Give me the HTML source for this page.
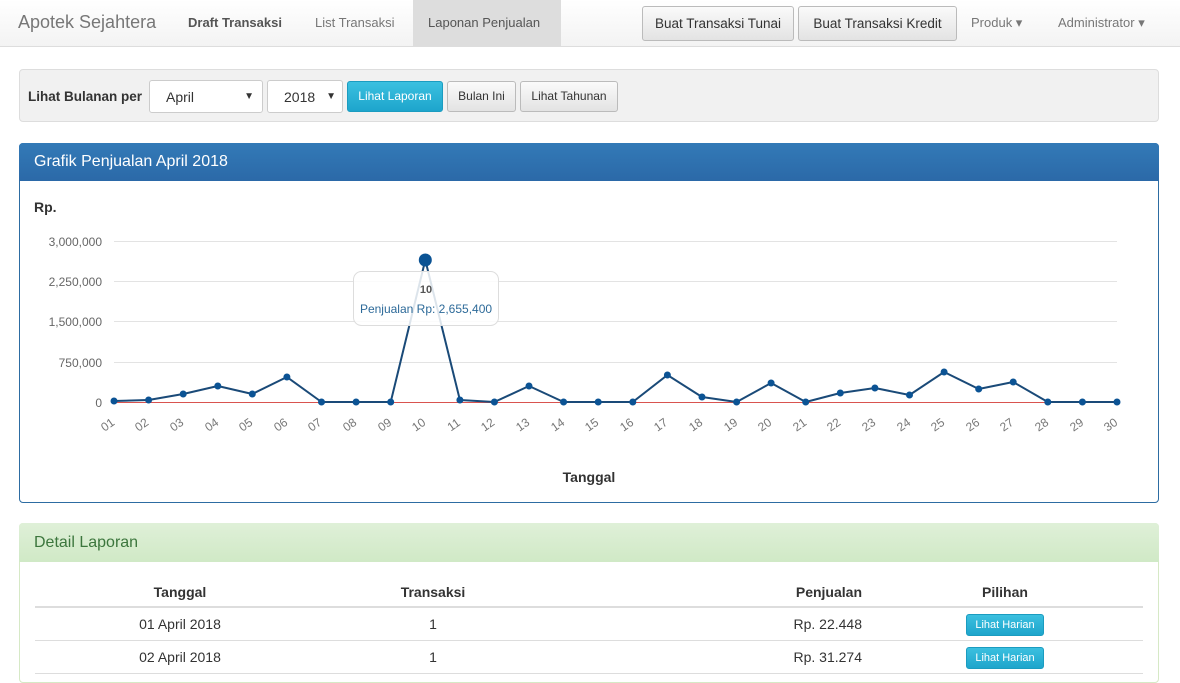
<!DOCTYPE html>
<html><head><meta charset="utf-8"><style>
body{margin:0;width:1180px;height:675px;overflow:hidden;background:#fff;font-family:"Liberation Sans",sans-serif;color:#333;position:relative}
.a{position:absolute}
.nav{left:0;top:0;width:1180px;height:46px;background:linear-gradient(#fff,#f3f3f3);border-bottom:1px solid #ddd}
.btn{position:absolute;border:1px solid #bbb;border-radius:3px;background:linear-gradient(#fafafa,#e3e3e3);font-size:13px;text-align:center;box-sizing:border-box;color:#333}
.sel{position:absolute;border:1px solid #ccc;border-radius:3px;background:#fff;font-size:14px;box-sizing:border-box;color:#333}
.t{font-size:12px;fill:#666}
.x{font-size:12px;fill:#777}
</style></head><body>
<div class="a nav"></div>
<div class="a" style="left:18px;top:12px;font-size:18px;color:#777">Apotek Sejahtera</div>
<div class="a" style="left:188px;top:15px;font-size:13px;font-weight:bold;color:#555">Draft Transaksi</div>
<div class="a" style="left:315px;top:15px;font-size:13px;color:#777">List Transaksi</div>
<div class="a" style="left:413px;top:0;width:148px;height:47px;background:#ddd"></div>
<div class="a" style="left:428px;top:15px;font-size:13px;color:#555">Laponan Penjualan</div>
<div class="btn" style="left:642px;top:6px;width:152px;height:35px;line-height:33px;font-size:13.5px">Buat Transaksi Tunai</div>
<div class="btn" style="left:798px;top:6px;width:159px;height:35px;line-height:33px;font-size:13.5px">Buat Transaksi Kredit</div>
<div class="a" style="left:971px;top:15px;font-size:13px;color:#777">Produk ▾</div>
<div class="a" style="left:1058px;top:15px;font-size:13px;color:#777">Administrator ▾</div>

<div class="a" style="left:19px;top:69px;width:1140px;height:53px;background:#f1f1f1;border:1px solid #ddd;border-radius:4px;box-sizing:border-box"></div>
<div class="a" style="left:28px;top:89px;font-size:13.5px;font-weight:bold">Lihat Bulanan per</div>
<div class="sel" style="left:149px;top:80px;width:114px;height:33px;padding:8px 16px">April<span style="position:absolute;right:8px;font-size:10px;top:10px">▼</span></div>
<div class="sel" style="left:267px;top:80px;width:76px;height:33px;padding:8px 16px">2018<span style="position:absolute;right:6px;font-size:10px;top:10px">▼</span></div>
<div class="btn" style="left:347px;top:81px;width:96px;height:31px;line-height:29px;font-size:12px;background:linear-gradient(#3bc0e0,#1ea5cc);border-color:#1b9cc0;color:#fff">Lihat Laporan</div>
<div class="btn" style="left:447px;top:81px;width:69px;height:31px;line-height:29px;font-size:12px">Bulan Ini</div>
<div class="btn" style="left:520px;top:81px;width:98px;height:31px;line-height:29px;font-size:12px">Lihat Tahunan</div>

<div class="a" style="left:19px;top:143px;width:1140px;height:360px;border:1px solid #2d6ca2;border-radius:4px;box-sizing:border-box"></div>
<div class="a" style="left:19px;top:143px;width:1140px;height:38px;background:linear-gradient(#337ab7,#2b69a8);border-radius:4px 4px 0 0"></div>
<div class="a" style="left:34px;top:153px;font-size:16px;color:#fff">Grafik Penjualan April 2018</div>
<div class="a" style="left:34px;top:199px;font-size:14px;font-weight:bold">Rp.</div>
<svg class="a" style="left:0;top:0" width="1180" height="500">
<g stroke="#e3e3e3" stroke-width="1">
<line x1="114" x2="1117" y1="241.5" y2="241.5"/><line x1="114" x2="1117" y1="281.5" y2="281.5"/><line x1="114" x2="1117" y1="321.5" y2="321.5"/><line x1="114" x2="1117" y1="362.5" y2="362.5"/></g>
<line x1="114" x2="1117" y1="402.5" y2="402.5" stroke="#d9534f" stroke-width="1"/>
<g text-anchor="end" class="t"><text x="102" y="246">3,000,000</text><text x="102" y="286">2,250,000</text><text x="102" y="326">1,500,000</text><text x="102" y="367">750,000</text><text x="102" y="407">0</text></g>
<polyline fill="none" stroke="#1a4a78" stroke-width="2" stroke-linejoin="round" points="114,401 148.6,400 183.2,394 217.8,386 252.3,394 286.9,377 321.5,402 356.1,402 390.7,402 425.3,260 459.9,400 494.4,402 529,386 563.6,402 598.2,402 632.8,402 667.4,375 702,397 736.6,402 771.1,383 805.7,402 840.3,393 874.9,388 909.5,395 944.1,372 978.7,389 1013.2,382 1047.8,402 1082.4,402 1117,402"/>
<g fill="#0b5394">
<circle cx="114" cy="401" r="3.5"/><circle cx="148.6" cy="400" r="3.5"/><circle cx="183.2" cy="394" r="3.5"/><circle cx="217.8" cy="386" r="3.5"/><circle cx="252.3" cy="394" r="3.5"/><circle cx="286.9" cy="377" r="3.5"/><circle cx="321.5" cy="402" r="3.5"/><circle cx="356.1" cy="402" r="3.5"/><circle cx="390.7" cy="402" r="3.5"/><circle cx="425.3" cy="260" r="6.5"/><circle cx="459.9" cy="400" r="3.5"/><circle cx="494.4" cy="402" r="3.5"/><circle cx="529" cy="386" r="3.5"/><circle cx="563.6" cy="402" r="3.5"/><circle cx="598.2" cy="402" r="3.5"/><circle cx="632.8" cy="402" r="3.5"/><circle cx="667.4" cy="375" r="3.5"/><circle cx="702" cy="397" r="3.5"/><circle cx="736.6" cy="402" r="3.5"/><circle cx="771.1" cy="383" r="3.5"/><circle cx="805.7" cy="402" r="3.5"/><circle cx="840.3" cy="393" r="3.5"/><circle cx="874.9" cy="388" r="3.5"/><circle cx="909.5" cy="395" r="3.5"/><circle cx="944.1" cy="372" r="3.5"/><circle cx="978.7" cy="389" r="3.5"/><circle cx="1013.2" cy="382" r="3.5"/><circle cx="1047.8" cy="402" r="3.5"/><circle cx="1082.4" cy="402" r="3.5"/><circle cx="1117" cy="402" r="3.5"/></g>
<rect x="353.5" y="271.5" width="145" height="54" rx="8" fill="rgba(255,255,255,0.85)" stroke="#ddd"/>
<text x="426" y="293" text-anchor="middle" font-size="11" font-weight="bold" fill="#555">10</text>
<text x="426" y="313" text-anchor="middle" font-size="12" fill="#2d6a99">Penjualan Rp: 2,655,400</text>
<g class="x" text-anchor="middle">
<text transform="translate(110,428) rotate(-35)">01</text><text transform="translate(144,428) rotate(-35)">02</text><text transform="translate(179,428) rotate(-35)">03</text><text transform="translate(214,428) rotate(-35)">04</text><text transform="translate(248,428) rotate(-35)">05</text><text transform="translate(283,428) rotate(-35)">06</text><text transform="translate(317,428) rotate(-35)">07</text><text transform="translate(352,428) rotate(-35)">08</text><text transform="translate(387,428) rotate(-35)">09</text><text transform="translate(421,428) rotate(-35)">10</text><text transform="translate(456,428) rotate(-35)">11</text><text transform="translate(490,428) rotate(-35)">12</text><text transform="translate(525,428) rotate(-35)">13</text><text transform="translate(560,428) rotate(-35)">14</text><text transform="translate(594,428) rotate(-35)">15</text><text transform="translate(629,428) rotate(-35)">16</text><text transform="translate(663,428) rotate(-35)">17</text><text transform="translate(698,428) rotate(-35)">18</text><text transform="translate(733,428) rotate(-35)">19</text><text transform="translate(767,428) rotate(-35)">20</text><text transform="translate(802,428) rotate(-35)">21</text><text transform="translate(836,428) rotate(-35)">22</text><text transform="translate(871,428) rotate(-35)">23</text><text transform="translate(906,428) rotate(-35)">24</text><text transform="translate(940,428) rotate(-35)">25</text><text transform="translate(975,428) rotate(-35)">26</text><text transform="translate(1009,428) rotate(-35)">27</text><text transform="translate(1044,428) rotate(-35)">28</text><text transform="translate(1079,428) rotate(-35)">29</text><text transform="translate(1113,428) rotate(-35)">30</text></g>
<text x="589" y="482" text-anchor="middle" font-size="14" font-weight="bold" fill="#333">Tanggal</text>
</svg>

<div class="a" style="left:19px;top:523px;width:1140px;height:160px;border:1px solid #d6e9c6;border-radius:4px;box-sizing:border-box"></div>
<div class="a" style="left:19px;top:523px;width:1140px;height:39px;background:linear-gradient(#dff0d8,#d0e9c6);border-radius:4px 4px 0 0"></div>
<div class="a" style="left:34px;top:534px;font-size:16px;color:#3c763d">Detail Laporan</div>
<div class="a" style="left:35px;top:606px;width:1108px;height:2px;background:#ddd"></div>
<div class="a" style="left:35px;top:640px;width:1108px;height:1px;background:#ddd"></div>
<div class="a" style="left:35px;top:673px;width:1108px;height:1px;background:#ddd"></div>
<div class="a" style="left:130px;top:584px;width:100px;text-align:center;font-size:14px;font-weight:bold">Tanggal</div>
<div class="a" style="left:383px;top:584px;width:100px;text-align:center;font-size:14px;font-weight:bold">Transaksi</div>
<div class="a" style="left:762px;top:584px;width:100px;text-align:right;font-size:14px;font-weight:bold">Penjualan</div>
<div class="a" style="left:955px;top:584px;width:100px;text-align:center;font-size:14px;font-weight:bold">Pilihan</div>
<div class="a" style="left:120px;top:616px;width:120px;text-align:center;font-size:14px">01 April 2018</div>
<div class="a" style="left:383px;top:616px;width:100px;text-align:center;font-size:14px">1</div>
<div class="a" style="left:742px;top:616px;width:120px;text-align:right;font-size:14px">Rp. 22.448</div>
<div class="btn" style="left:966px;top:614px;width:78px;height:22px;line-height:20px;font-size:11px;background:linear-gradient(#3bc0e0,#1ea5cc);border-color:#1b9cc0;color:#fff">Lihat Harian</div>
<div class="a" style="left:120px;top:649px;width:120px;text-align:center;font-size:14px">02 April 2018</div>
<div class="a" style="left:383px;top:649px;width:100px;text-align:center;font-size:14px">1</div>
<div class="a" style="left:742px;top:649px;width:120px;text-align:right;font-size:14px">Rp. 31.274</div>
<div class="btn" style="left:966px;top:647px;width:78px;height:22px;line-height:20px;font-size:11px;background:linear-gradient(#3bc0e0,#1ea5cc);border-color:#1b9cc0;color:#fff">Lihat Harian</div>
</body></html>
